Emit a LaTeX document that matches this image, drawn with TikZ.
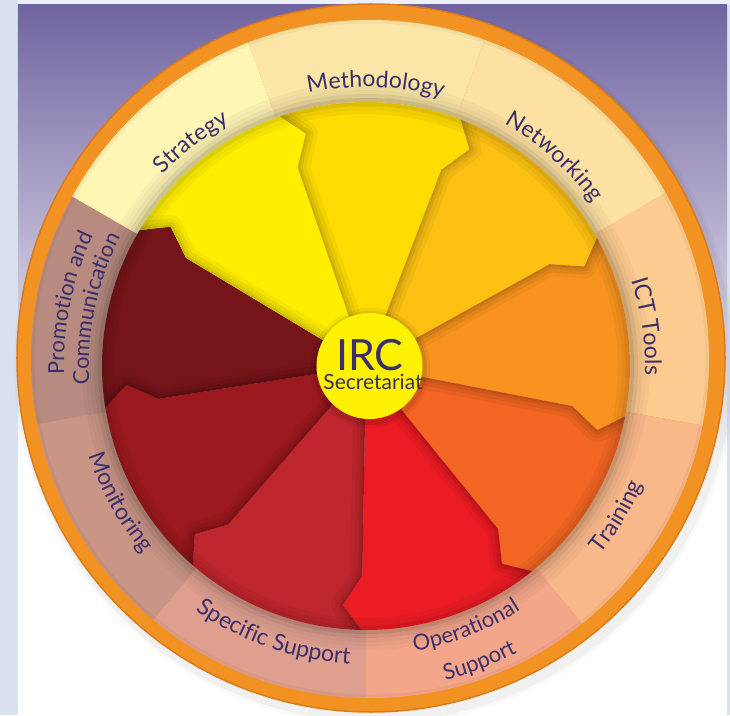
\documentclass[tikz,border=0pt]{standalone}
\usepackage{fontspec}
\setmainfont{Lato}
\usetikzlibrary{decorations.text}
\definecolor{txt}{HTML}{3A2E6C}
\definecolor{stripblue}{HTML}{D9E1EF}
\definecolor{topstrip}{HTML}{EDEFF6}
\definecolor{bgtop}{HTML}{7064A0}
\definecolor{bgmid}{HTML}{A098C2}
\definecolor{ringorange}{HTML}{F29222}
\definecolor{ringedge}{HTML}{DB7A18}
% label ring colours
\definecolor{rStrat}{HTML}{FFF5B5}
\definecolor{rMeth}{HTML}{FCE6A7}
\definecolor{rNet}{HTML}{FDE1A2}
\definecolor{rICT}{HTML}{FCCB8F}
\definecolor{rTrain}{HTML}{F9B88A}
\definecolor{rOp}{HTML}{F4A68A}
\definecolor{rSpec}{HTML}{DE9F8F}
\definecolor{rMon}{HTML}{C99586}
\definecolor{rProm}{HTML}{B88B80}
% piece colours
\definecolor{pStrat}{HTML}{FFEE00}
\definecolor{pMeth}{HTML}{FEDB02}
\definecolor{pNet}{HTML}{FCC013}
\definecolor{pICT}{HTML}{F7931E}
\definecolor{pTrain}{HTML}{F26522}
\definecolor{pOp}{HTML}{EC1C24}
\definecolor{pSpec}{HTML}{C0262D}
\definecolor{pMon}{HTML}{9C1A1F}
\definecolor{pProm}{HTML}{75151A}
\definecolor{ircyellow}{HTML}{FFF200}
\newcommand\lblfont{\fontsize{23}{23}\selectfont}
\newcommand\lblsmall{\fontsize{22}{22}\selectfont}
\tikzset{
  cwlabel/.style={decorate, decoration={text along path, text align=center, text color=txt, text={|\lblfont|#1}}},
  cwsmall/.style={decorate, decoration={text along path, text align=center, text color=txt, text={|\lblsmall|#1}}},
  irctext/.style={text=txt, inner sep=0pt}
}
\begin{document}
\begin{tikzpicture}[x=1pt,y=1pt]
\useasboundingbox (-366,-349) rectangle (364,366);
% ---- background
\fill[stripblue] (-366,-349) rectangle (364,366);
\fill[topstrip] (-348,361) rectangle (364,366);
\fill[white] (-348,-349) rectangle (361,361);
\shade[top color=bgtop, middle color=bgmid, bottom color=white] (-348,-90) rectangle (361,361);
% ---- soft shadow of the wheel
\foreach \r/\o in {361/0.025,358/0.035}
  \fill[black, opacity=\o] (9,2) circle[radius=\r];
% ---- orange outer ring
\fill[ringorange, draw=ringedge, line width=1.5] (5,8) circle[radius=354];
% ---- label ring
\begin{scope}
  \clip (4,7) circle[radius=339];
  \foreach \c/\col in {90/rMeth,50/rNet,10/rICT,-30/rTrain,-70/rOp,-110/rSpec,-150/rMon,170/rProm,130/rStrat}
    \fill[\col] (0,0) -- ({\c+20}:430) arc[start angle={\c+20}, end angle={\c-20}, radius=430] -- cycle;
  \foreach \r/\o in {266/0.20,270/0.13,274/0.08,278/0.05,282/0.03}
    \draw[black, opacity=\o, line width=4] (0,0) circle[radius=\r];
  \draw[black, opacity=0.04, line width=3] (4,7) circle[radius=337];
\end{scope}
% ---- pieces
\foreach \a/\col in {70/pMeth,30/pNet,-10/pICT,-50/pTrain,-90/pOp,-130/pSpec,-170/pMon,150/pProm,110/pStrat}
  \fill[\col] (0,0) -- ({\a-1}:210) -- ({\a-5.5}:240) -- ({\a-1}:264)
     arc[start angle={\a-1}, end angle={\a+39}, radius=264]
     -- ({\a+34.5}:240) -- ({\a+39}:210) -- cycle;
% ---- shadows cast by each piece on its clockwise neighbour
\foreach \a in {70,30,-10,-50,-90,-130,-170,150,110} {
  \begin{scope}
    \clip (0,0) -- ({\a-1}:210) -- ({\a-5.5}:240) -- ({\a-1}:264)
       arc[start angle={\a-1}, end angle={\a+39}, radius=264]
       -- ({\a+34.5}:240) -- ({\a+39}:210) -- cycle;
    \foreach \w/\o in {24/0.04,16/0.05,9/0.06,4/0.07}
      \draw[black, opacity=\o, line width=\w, line join=round]
        (0,0) -- ({\a+39}:210) -- ({\a+34.5}:240) -- ({\a+39}:266);
  \end{scope}
}
% ---- shadow of the ring on the pieces
\foreach \r/\o in {262/0.13,258/0.07,254/0.04}
  \draw[black, opacity=\o, line width=4] (0,0) circle[radius=\r];
% ---- centre
\foreach \r/\o in {60/0.05,57/0.08}
  \fill[black, opacity=\o] (4,-2) circle[radius=\r];
\fill[ircyellow] (3.5,0) circle[radius=53];
\node[irctext, font=\fontsize{43}{43}\selectfont] (irc) at (4,11) {IRC};
\node[irctext, font=\fontsize{21}{21}\selectfont] (sec) at (7,-16) {Secretariat};
% ---- labels (clockwise, tops outward)
\path[cwlabel=Strategy] (148:279) arc[start angle=148, end angle=108, radius=279];
\path[cwlabel=Methodology] (108:279) arc[start angle=108, end angle=68, radius=279];
\path[cwlabel=Networking] (68:279) arc[start angle=68, end angle=28, radius=279];
\path[cwlabel=ICT Tools] (28:279) arc[start angle=28, end angle=-12, radius=279];
\path[cwsmall=Promotion and] (190:302) arc[start angle=190, end angle=146, radius=302];
\path[cwsmall=Communication] (190:277) arc[start angle=190, end angle=146, radius=277];
% ---- labels (counter-clockwise, tops inward)
\path[cwlabel=Training] (-51:301) arc[start angle=-51, end angle=-11, radius=301];
\path[cwsmall=Operational] (-91:289) arc[start angle=-91, end angle=-47, radius=289];
\path[cwsmall=Support] (-89:324) arc[start angle=-89, end angle=-49, radius=324];
\path[cwlabel=Specific Support] (-131:298) arc[start angle=-131, end angle=-87, radius=298];
\path[cwlabel=Monitoring] (-171:291) arc[start angle=-171, end angle=-131, radius=291];
\end{tikzpicture}
\end{document}
